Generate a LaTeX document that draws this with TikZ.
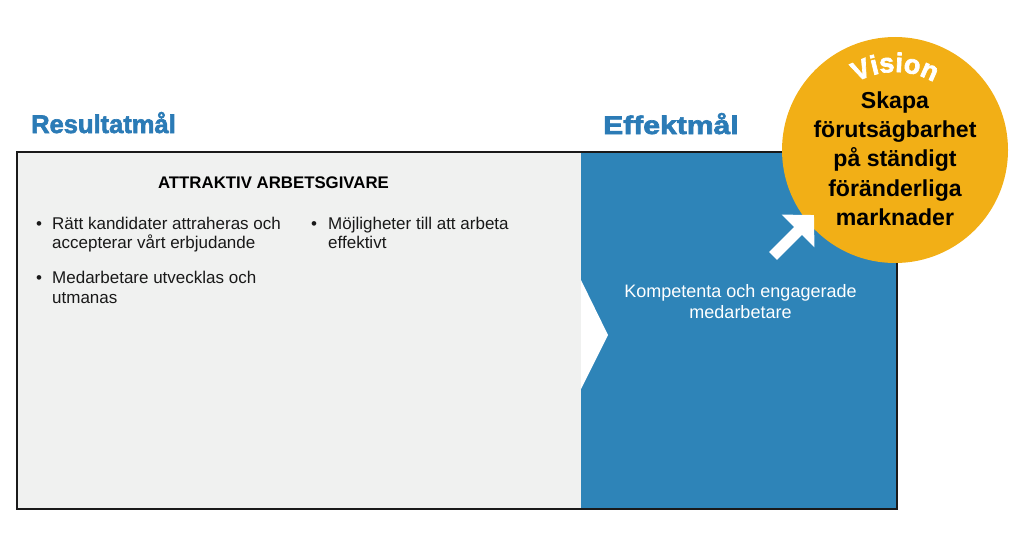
\documentclass[tikz,border=0pt]{standalone}
\usepackage{fontspec}
\usepackage{graphicx}
\setmainfont{Liberation Sans}
\newfontfamily\headfont{Liberation Sans}[BoldFeatures={FakeBold=2.5}]
\newfontfamily\bodyfont{Liberation Sans}
\usetikzlibrary{arrows.meta,decorations.text}
\definecolor{boxgray}{HTML}{F0F1F0}
\definecolor{effblue}{HTML}{2E84B8}
\definecolor{headblue}{HTML}{2B7BB6}
\definecolor{visyellow}{HTML}{F2AF16}
\definecolor{borderc}{HTML}{1A1A1A}
\tikzset{
  heading/.style={anchor=base west, inner sep=0pt, text=headblue, font=\headfont\bfseries\fontsize{25.5}{26}\selectfont},
  bodytext/.style={anchor=base west, inner sep=0pt, text=black!90, font=\bodyfont\fontsize{17}{20}\selectfont},
  bulletmark/.style={anchor=base west, inner sep=0pt, text=black!90, font=\bodyfont\fontsize{17}{20}\selectfont},
  boxtitle/.style={anchor=base, inner sep=0pt, text=black, font=\bodyfont\bfseries\fontsize{16.8}{20}\selectfont},
  efftext/.style={anchor=base, inner sep=0pt, text=white, font=\bodyfont\fontsize{18}{21}\selectfont},
  visiontext/.style={anchor=base, inner sep=0pt, text=black, font=\bodyfont\bfseries\fontsize{23.1}{29}\selectfont},
}
\begin{document}
\begin{tikzpicture}[x=1pt,y=-1pt]
\useasboundingbox (0,0) rectangle (1024,543);
% panels
\fill[boxgray] (16,151) rectangle (581,508);
\fill[effblue] (581,151) rectangle (896,508);
\fill[white] (581,280) -- (608,335) -- (581,389) -- cycle;
\node[draw=borderc, line width=2pt, minimum width=880pt, minimum height=357pt, inner sep=0pt, anchor=north west] (box) at (16,151) {};
% headings
\node[heading] (res) at (31,133) {Resultatmål};
\node[heading] (eff) at (603,134) {\scalebox{1.18}[1]{Effektmål}};
% left box content
\node[boxtitle] (title) at (273.5,188) {ATTRAKTIV ARBETSGIVARE};
\node[bulletmark] (b1) at (36,229) {•};
\node[bodytext] (b1a) at (52,229) {Rätt kandidater attraheras och};
\node[bodytext] (b1b) at (52,248) {accepterar vårt erbjudande};
\node[bulletmark] (b2) at (36,283) {•};
\node[bodytext] (b2a) at (52,283) {Medarbetare utvecklas och};
\node[bodytext] (b2b) at (52,303) {utmanas};
\node[bulletmark] (b3) at (311,229) {•};
\node[bodytext] (b3a) at (328,229) {Möjligheter till att arbeta};
\node[bodytext] (b3b) at (328,248) {effektivt};
% right box content
\node[efftext] (k1) at (740.5,297) {Kompetenta och engagerade};
\node[efftext] (k2) at (740.5,318) {medarbetare};
% vision circle
\node[circle, fill=visyellow, minimum size=226pt, inner sep=0pt] (vis) at (895,150) {};
\path[decorate, decoration={text along path, text={|\headfont\bfseries\fontsize{27}{27}\selectfont|Vision}, text align=center, text color=white}]
  (vis.center) ++(210:78) arc[start angle=210, end angle=330, radius=78];
\node[visiontext] (v1) at (895,108) {Skapa};
\node[visiontext] (v2) at (895,137) {förutsägbarhet};
\node[visiontext] (v3) at (895,166.5) {på ständigt};
\node[visiontext] (v4) at (895,196) {föränderliga};
\node[visiontext] (v5) at (895,225) {marknader};
% arrow
\coordinate (aS) at (773,256);
\coordinate (aE) at (814,215);
\draw[white, line width=11pt, -{Triangle[width=45pt,length=22.6pt]}] (aS) -- (aE);
\end{tikzpicture}
\end{document}
